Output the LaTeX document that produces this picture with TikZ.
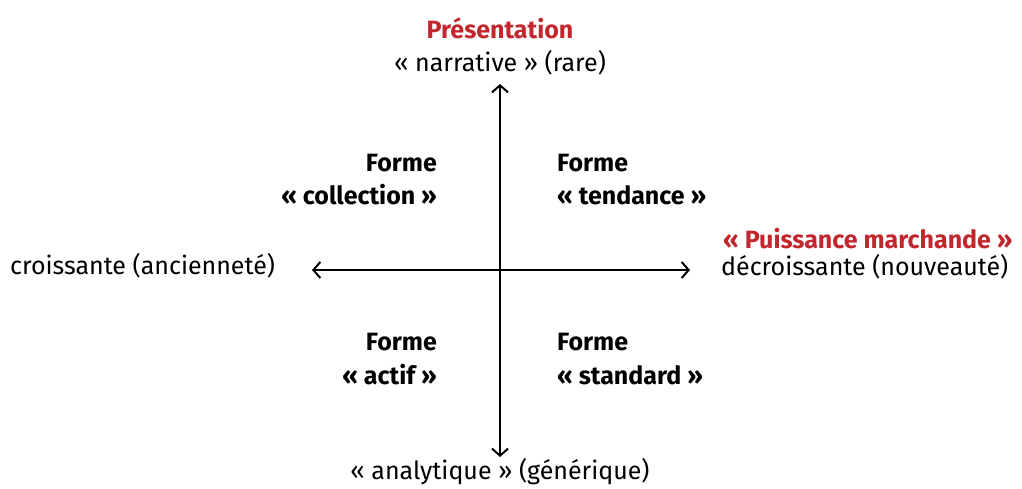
\documentclass[tikz,border=0pt]{standalone}
\usepackage{fontspec}
\setmainfont{Fira Sans}
\usetikzlibrary{arrows.meta}
\definecolor{tred}{HTML}{C1272D}
\begin{document}
\begin{tikzpicture}[x=1pt,y=-1pt,
  txt/.style={inner sep=0pt,font=\fontsize{25}{30}\selectfont},
  btxt/.style={txt,font=\fontsize{25}{30}\selectfont\bfseries},
  axis/.style={line width=2pt,{Straight Barb[length=7pt,width=16pt,line width=2pt]}-{Straight Barb[length=7pt,width=16pt,line width=2pt]}}]
\useasboundingbox (0,0) rectangle (1022,489);
\node[btxt,text=tred] (pres) at (500,28) {Présentation};
\node[txt] (narr) at (500,63) {«~narrative~» (rare)};
\node[txt] (anal) at (500,472) {«~analytique~» (générique)};
\node[txt,anchor=west] (crois) at (10,266) {croissante (ancienneté)};
\node[btxt,text=tred,anchor=west] (puis) at (723,239) {«~Puissance marchande~»};
\node[txt,anchor=west] (decr) at (721,267) {décroissante (nouveauté)};
\node[btxt,anchor=east] (f1) at (437,163) {Forme};
\node[btxt,anchor=east] (c1) at (437,195) {«~collection~»};
\node[btxt,anchor=west] (f2) at (557,163) {Forme};
\node[btxt,anchor=west] (c2) at (557,195) {«~tendance~»};
\node[btxt,anchor=east] (f3) at (437,342) {Forme};
\node[btxt,anchor=east] (c3) at (437,375) {«~actif~»};
\node[btxt,anchor=west] (f4) at (557,342) {Forme};
\node[btxt,anchor=west] (c4) at (557,375) {«~standard~»};
\coordinate (top) at (500,84);
\coordinate (bot) at (500,457);
\coordinate (lft) at (312,270);
\coordinate (rgt) at (690,270);
\draw[axis] (bot) -- (top);
\draw[axis] (lft) -- (rgt);
\end{tikzpicture}
\end{document}
